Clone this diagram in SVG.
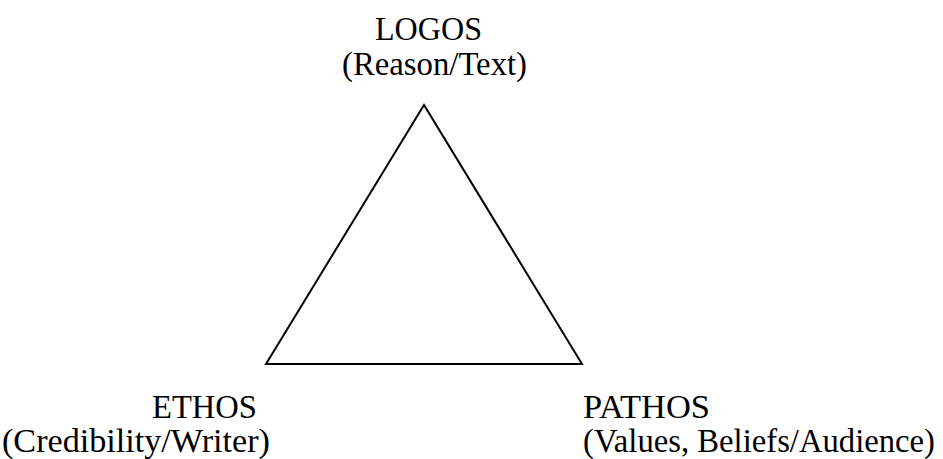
<svg xmlns="http://www.w3.org/2000/svg" width="943" height="459" viewBox="0 0 943 459">
<style>
text{font-family:"Liberation Serif","Times New Roman",serif;font-size:33px;fill:#000}
.edge{fill:none;stroke:#000;stroke-width:2;stroke-linejoin:miter}
</style>
<rect width="943" height="459" fill="#fff"/>
<g id="connectors">
<polygon class="edge" points="424,105 266,364 582,364"/>
</g>
<g id="logos">
<text x="375" y="40" textLength="107" lengthAdjust="spacingAndGlyphs">LOGOS</text>
<text x="342" y="75" textLength="185" lengthAdjust="spacingAndGlyphs">(Reason/Text)</text>
</g>
<g id="ethos">
<text x="152" y="418" textLength="105" lengthAdjust="spacingAndGlyphs">ETHOS</text>
<text x="2" y="452" textLength="268" lengthAdjust="spacingAndGlyphs">(Credibility/Writer)</text>
</g>
<g id="pathos">
<text x="583" y="418" textLength="127" lengthAdjust="spacingAndGlyphs">PATHOS</text>
<text x="583" y="452" textLength="352" lengthAdjust="spacingAndGlyphs">(Values, Beliefs/Audience)</text>
</g>
</svg>
